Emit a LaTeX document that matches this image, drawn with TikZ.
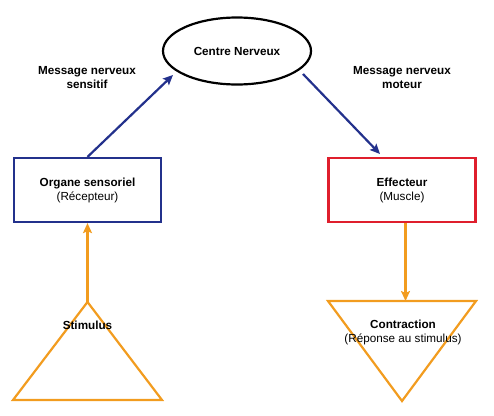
\documentclass[tikz,border=0pt]{standalone}
\usepackage{fontspec}
\setmainfont{Liberation Sans}
\usetikzlibrary{shapes.geometric,arrows.meta}
\definecolor{navy}{HTML}{23318C}
\definecolor{redb}{HTML}{DF1F2D}
\definecolor{orng}{HTML}{F29C1F}
\begin{document}
\begin{tikzpicture}[x=1pt,y=-1pt,
  txt/.style={font=\fontsize{11.7}{14}\selectfont, align=center, inner sep=0pt},
  box/.style={draw, line width=2.2pt, minimum width=147pt, minimum height=64pt, inner sep=0pt, align=center, font=\fontsize{11.7}{14}\selectfont},
  arr/.style={line width=2.2pt, -{Stealth[length=10pt,width=9pt,inset=2pt]}},
  tri/.style={draw=orng, line width=2.2pt, line join=miter}
]
\useasboundingbox (0,0) rectangle (494,415);
% centre nerveux
\node[draw, ellipse, line width=2.2pt, minimum width=148pt, minimum height=67pt, font=\fontsize{11.7}{14}\selectfont\bfseries] (cn) at (237,51) {Centre Nerveux};
% boxes
\node[box, draw=navy] (org) at (87.5,190) {\textbf{Organe sensoriel}\\(Récepteur)};
\node[box, draw=redb] (eff) at (402,190) {\textbf{Effecteur}\\(Muscle)};
% labels
\node[txt, font=\fontsize{11.7}{14}\selectfont\bfseries] (l1) at (87,78) {Message nerveux\\sensitif};
\node[txt, font=\fontsize{11.7}{14}\selectfont\bfseries] (l2) at (402,78) {Message nerveux\\moteur};
% triangles
\coordinate (sa) at (87.5,302);
\coordinate (sl) at (13,400);
\coordinate (sr) at (162,400);
\draw[tri] (sa) -- (sr) -- (sl) -- cycle;
\node[txt, font=\fontsize{11.7}{14}\selectfont\bfseries] (stim) at (87.5,325) {Stimulus};
\coordinate (cl) at (328,301);
\coordinate (cr) at (476,301);
\coordinate (cb) at (402,401);
\coordinate (ct) at (405.5,301);
\draw[tri] (cl) -- (cr) -- (cb) -- cycle;
\node[txt] (con) at (403,332) {\textbf{Contraction}\\(Réponse au stimulus)};
% connectors
\coordinate (e1) at (173,75);
\coordinate (e2) at (303,74);
\coordinate (f2) at (380,154);
\draw[arr, draw=navy, fill=navy] (org.north) -- (e1);
\draw[arr, draw=navy, fill=navy] (e2) -- (f2);
\draw[arr, draw=orng, fill=orng] (sa) -- (org.south);
\draw[arr, draw=orng, fill=orng] (eff.south -| ct) -- (ct);
\end{tikzpicture}
\end{document}
